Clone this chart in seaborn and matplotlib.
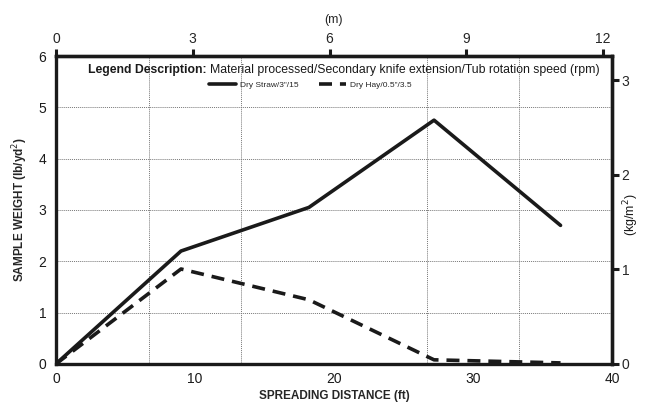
import matplotlib
matplotlib.use("Agg")
import matplotlib.pyplot as plt
import matplotlib.ticker as mticker
from matplotlib.lines import Line2D
import seaborn as sns
import pandas as pd

# Data
straw_label = 'Dry Straw/3"/15'
hay_label = 'Dry Hay/0.5"/3.5'
distance_ft = [0, 9.0, 18.2, 27.2, 36.3]
straw_weight = [0, 2.2, 3.05, 4.75, 2.7]
hay_weight = [0, 1.85, 1.25, 0.08, 0.02]

x_ticks = [0, 10, 20, 30, 40]
y_ticks = [0, 1, 2, 3, 4, 5, 6]
m_ticks = [0, 3, 6, 9, 12]
kg_ticks = [0, 1, 2, 3]

FT_PER_M = 3.28084
KG_PER_LB_YD2 = 0.45359237 / 0.83612736

df = pd.DataFrame({
    "distance": distance_ft * 2,
    "weight": straw_weight + hay_weight,
    "series": [straw_label] * len(distance_ft) + [hay_label] * len(distance_ft),
})

sns.set_theme(style="white")
plt.rcParams["font.family"] = ["Liberation Sans", "DejaVu Sans"]

INK = "#1a1a1a"
fig = plt.figure(figsize=(6.5, 4.08), dpi=100)
ax = fig.add_axes([0.086, 0.108, 0.9415 - 0.086, 0.8627 - 0.108])

sns.lineplot(data=df, x="distance", y="weight", hue="series", style="series",
             palette={straw_label: INK, hay_label: INK},
             dashes={straw_label: "", hay_label: (3.6, 2.2)},
             linewidth=2.6, ax=ax, legend=False, sort=False)

ax.set_xlim(0, 40)
ax.set_ylim(0, 6)
ax.set_xticks(x_ticks)
ax.set_yticks(y_ticks)
ax.xaxis.set_minor_locator(mticker.FixedLocator([40 / 6 * i for i in range(1, 6)]))

ax.grid(False)
ax.grid(True, which="minor", axis="x", linestyle=(0, (1, 1)), color="#777777", linewidth=0.7)
ax.grid(True, which="major", axis="y", linestyle=(0, (1, 1)), color="#777777", linewidth=0.7)
ax.tick_params(axis="x", which="minor", length=0)

for s in ax.spines.values():
    s.set_linewidth(2.4)
    s.set_color(INK)
    s.set_visible(True)

ax.tick_params(axis="both", which="major", direction="out", length=5, width=2.2,
               color=INK, labelsize=10, labelcolor=INK, pad=2)
ax.tick_params(axis="x", which="major", length=4)

ax.set_xlabel("SPREADING DISTANCE (ft)", fontsize=8.5, fontweight="bold", labelpad=3)
ax.set_ylabel("SAMPLE WEIGHT (lb/yd$^2$)", fontsize=8.5, fontweight="bold", labelpad=6)

# Secondary axes
secx = ax.secondary_xaxis("top", functions=(lambda x: x / FT_PER_M, lambda m: m * FT_PER_M))
secx.set_xticks(m_ticks)
secx.tick_params(direction="out", length=5, width=2.2, color=INK, labelsize=10, pad=2)
secx.spines["top"].set_linewidth(2.4)
secx.set_xlabel("(m)", fontsize=9, labelpad=7)

secy = ax.secondary_yaxis("right", functions=(lambda y: y * KG_PER_LB_YD2, lambda k: k / KG_PER_LB_YD2))
secy.set_yticks(kg_ticks)
secy.tick_params(direction="out", length=5, width=2.2, color=INK, labelsize=10, pad=2)
secy.spines["right"].set_linewidth(2.4)
fig.text(631 / 650, 1 - 215 / 408, "(kg/m$^2$)", rotation=90, ha="center", va="center",
         fontsize=9, color=INK)

# Legend description
ax.text(0.271, 0.955, "Legend Description:", transform=ax.transAxes, ha="right", va="center",
        fontsize=8.8, fontweight="bold", color=INK)
ax.text(0.278, 0.955, "Material processed/Secondary knife extension/Tub rotation speed (rpm)",
        transform=ax.transAxes, ha="left", va="center", fontsize=8.8, color=INK)

handles = [Line2D([], [], color=INK, lw=2.6),
           Line2D([], [], color=INK, lw=2.6, dashes=(3.6, 2.2))]
ax.legend(handles, [straw_label, hay_label], loc="center", bbox_to_anchor=(0.458, 0.906),
          ncol=2, frameon=False, fontsize=6, handlelength=3.2, columnspacing=2.5,
          handletextpad=0.5, borderaxespad=0)

fig.savefig("out.png", dpi=100)
